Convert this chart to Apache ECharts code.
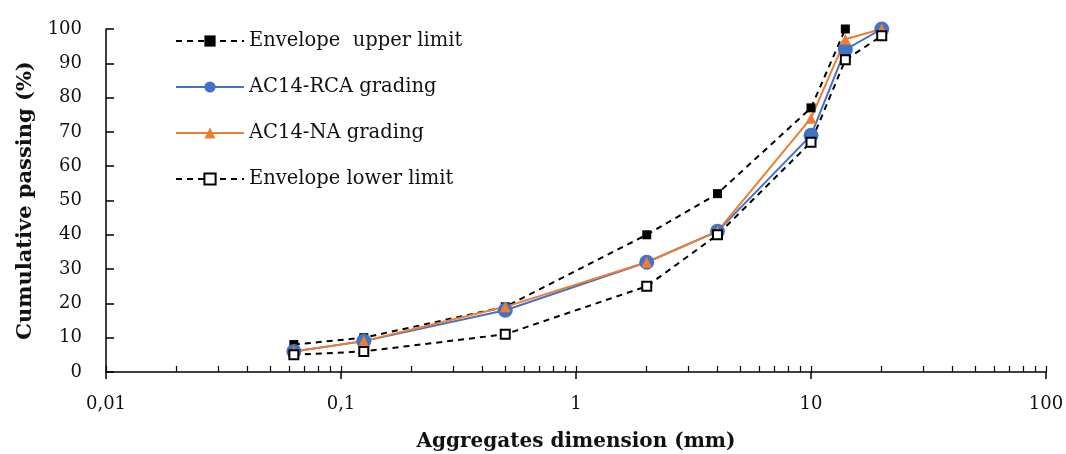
<!DOCTYPE html>
<html>
<head>
<meta charset="utf-8">
<script src="https://cdn.jsdelivr.net/npm/echarts@6/dist/echarts.min.js"></script>
<style>
  html, body { margin: 0; padding: 0; background: #fff; }
  #chart { width: 1066px; height: 454px; }
</style>
</head>
<body>
<div id="chart"></div>
<script>
// sieve sizes (mm)
const sizes = [0.063, 0.125, 0.5, 2, 4, 10, 14, 20];
const upperLimit = [8, 10, 19, 40, 52, 77, 100, null];
const rcaGrading = [6, 9, 18, 32, 41, 69, 94, 100];
const naGrading = [6, 9, 19, 32, 41, 74, 97, 100];
const lowerLimit = [5, 6, 11, 25, 40, 67, 91, 98];
const minorTicks = [];
[0.01, 0.1, 1, 10].forEach(d => {
  for (let k = 2; k <= 9; k++) minorTicks.push(+(d * k).toPrecision(3));
});

const font = "'DejaVu Serif', 'Liberation Serif', serif";
const pairs = ys => sizes.map((x, i) => [x, ys[i]]).filter(p => p[1] != null);

let myChart = echarts.init(document.getElementById('chart'));
myChart.setOption({
  animation: false,
  textStyle: { fontFamily: font },
  grid: { left: 106, right: 20, top: 29, bottom: 82, containLabel: false, outerBoundsMode: 'none' },
  legend: {
    orient: 'vertical',
    left: 170,
    top: 26,
    itemWidth: 68,
    itemHeight: 14,
    itemGap: 26,
    textStyle: { fontFamily: font, fontSize: 19.5, color: '#111' },
    data: ['Envelope  upper limit', 'AC14-RCA grading', 'AC14-NA grading', 'Envelope lower limit']
  },
  xAxis: [
    {
      type: 'log',
      min: 0.01,
      max: 100,
      logBase: 10,
      name: 'Aggregates dimension (mm)',
      nameLocation: 'middle',
      nameGap: 60,
      nameTextStyle: { fontFamily: font, fontSize: 20, fontWeight: 'bold', color: '#111' },
      axisLine: { lineStyle: { color: '#000', width: 1.5 } },
      axisTick: { show: true, length: 7, inside: false, lineStyle: { color: '#000', width: 1.5 } },
      axisLabel: {
        fontFamily: font, fontSize: 18, color: '#111', margin: 23,
        formatter: v => String(v).replace('.', ',')
      },
      splitLine: { show: false },
      minorTick: { show: false }
    },
    {
      type: 'log',
      min: 0.01,
      max: 100,
      logBase: 10,
      position: 'bottom',
      axisLine: { show: false },
      axisTick: {
        show: true, inside: true, length: 6,
        customValues: minorTicks.concat([0.01, 0.1, 1, 10, 100]),
        lineStyle: { color: '#000', width: 1.2 }
      },
      axisLabel: { show: false },
      splitLine: { show: false }
    }
  ],
  yAxis: {
    type: 'value',
    min: 0,
    max: 100,
    interval: 10,
    name: 'Cumulative passing (%)',
    nameLocation: 'middle',
    nameGap: 70,
    nameRotate: 90,
    nameTextStyle: { fontFamily: font, fontSize: 21, fontWeight: 'bold', color: '#111' },
    axisLine: { show: true, lineStyle: { color: '#000', width: 1.5 } },
    axisTick: { show: true, inside: true, length: 8, lineStyle: { color: '#000', width: 1.5 } },
    axisLabel: { fontFamily: font, fontSize: 18, color: '#111', margin: 24 },
    splitLine: { show: false }
  },
  series: [
    {
      name: 'Envelope  upper limit',
      type: 'line',
      data: pairs(upperLimit),
      symbol: 'rect',
      symbolSize: 9,
      lineStyle: { color: '#000', width: 2, type: [6, 5] },
      itemStyle: { color: '#000' }
    },
    {
      name: 'AC14-RCA grading',
      type: 'line',
      data: pairs(rcaGrading),
      symbol: 'circle',
      symbolSize: 15,
      lineStyle: { color: '#4472C4', width: 2 },
      itemStyle: { color: '#4472C4' }
    },
    {
      name: 'AC14-NA grading',
      type: 'line',
      data: pairs(naGrading),
      symbol: 'triangle',
      symbolSize: 11,
      lineStyle: { color: '#ED7D31', width: 2 },
      itemStyle: { color: '#ED7D31' }
    },
    {
      name: 'Envelope lower limit',
      type: 'line',
      data: pairs(lowerLimit),
      symbol: 'rect',
      symbolSize: 9,
      lineStyle: { color: '#000', width: 2, type: [6, 5] },
      itemStyle: { color: '#fff', borderColor: '#000', borderWidth: 2 }
    }
  ]
});
window.addEventListener('resize', () => { if (myChart) myChart.resize(); });
</script>
</body>
</html>
